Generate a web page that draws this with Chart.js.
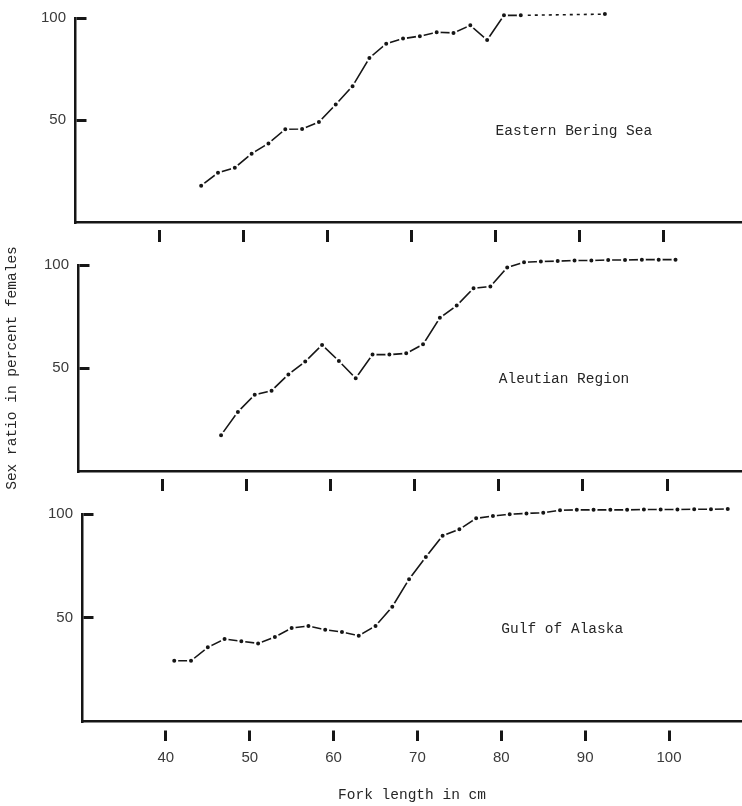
<!DOCTYPE html>
<html>
<head>
<meta charset="utf-8">
<script src="https://cdn.jsdelivr.net/npm/chart.js@4/dist/chart.umd.min.js"></script>
<style>
  html, body { margin: 0; padding: 0; background: #fff; }
  #wrap { position: relative; width: 742px; height: 806px; overflow: hidden; background: #fff; }
  #wrap canvas { position: absolute; left: 0; display: block; }
</style>
</head>
<body>
<div id="wrap">
  <canvas id="bering" width="742" height="246" style="top:0px"></canvas>
  <canvas id="aleutian" width="742" height="250" style="top:246px"></canvas>
  <canvas id="gulf" width="742" height="310" style="top:496px"></canvas>
</div>
<script>
// Fork length classes (cm) and percent females in each class, by region
const beringLength  = [45, 47, 49, 51, 53, 55, 57, 59, 61, 63, 65, 67, 69, 71, 73, 75, 77, 79, 81, 83, 93];
const beringFemales = [17.8, 24.1, 26.6, 33.5, 38.5, 45.5, 45.6, 49.0, 57.6, 66.6, 80.4, 87.4, 89.9, 91.1, 93.0, 92.7, 96.4, 89.2, 101.3, 101.3, 101.9];

const aleutianLength  = [47, 49, 51, 53, 55, 57, 59, 61, 63, 65, 67, 69, 71, 73, 75, 77, 79, 81, 83, 85, 87, 89, 91, 93, 95, 97, 99, 101];
const aleutianFemales = [17.4, 28.7, 37.0, 39.0, 46.9, 53.1, 61.2, 53.4, 45.0, 56.5, 56.5, 57.1, 61.5, 74.4, 80.3, 88.7, 89.6, 98.8, 101.3, 101.7, 101.9, 102.2, 102.2, 102.4, 102.4, 102.6, 102.6, 102.6];

const gulfLength  = [41, 43, 45, 47, 49, 51, 53, 55, 57, 59, 61, 63, 65, 67, 69, 71, 73, 75, 77, 79, 81, 83, 85, 87, 89, 91, 93, 95, 97, 99, 101, 103, 105, 107];
const gulfFemales = [29.1, 29.1, 35.6, 39.6, 38.5, 37.5, 40.6, 44.9, 45.9, 44.1, 43.0, 41.2, 45.9, 55.2, 68.5, 79.2, 89.5, 92.6, 97.9, 99.0, 99.9, 100.3, 100.6, 101.8, 102.0, 102.0, 102.0, 102.0, 102.2, 102.2, 102.2, 102.3, 102.3, 102.4];

// Axis tick values
const lengthTicks  = [40, 50, 60, 70, 80, 90, 100];
const percentTicks = [50, 100];

const INK = '#161616';
const MONO = "'Liberation Mono', 'DejaVu Sans Mono', monospace";
const SANS = "'Liberation Sans', Arial, sans-serif";

// Region name written inside each panel, placed in data units
const regionLabel = {
  id: 'regionLabel',
  afterDatasetsDraw(chart, args, opts) {
    if (!opts.text) return;
    const { ctx, scales: { x, y } } = chart;
    ctx.save();
    ctx.font = '14.5px ' + MONO;
    ctx.fillStyle = '#262626';
    ctx.textAlign = 'left';
    ctx.textBaseline = 'middle';
    ctx.fillText(opts.text, x.getPixelForValue(opts.at[0]), y.getPixelForValue(opts.at[1]));
    ctx.restore();
  }
};

function panel(id, lengths, females, cfg) {
  const last = lengths.length - 1;
  return new Chart(document.getElementById(id), {
    type: 'line',
    data: {
      datasets: [{
        data: lengths.map((v, i) => ({ x: v, y: females[i] })),
        borderColor: INK,
        borderWidth: 1.6,
        tension: 0,
        fill: false,
        clip: 10,
        pointRadius: 3,
        pointBorderWidth: 2,
        pointBackgroundColor: INK,
        pointBorderColor: '#fff',
        segment: {
          borderDash: ctx => (cfg.dottedTail && ctx.p1DataIndex === last) ? [3, 4] : undefined
        }
      }]
    },
    options: {
      responsive: false,
      animation: false,
      devicePixelRatio: 1,
      layout: { autoPadding: false, padding: { top: cfg.top, left: 0, right: 0, bottom: 0 } },
      plugins: {
        legend: { display: false },
        tooltip: { enabled: false },
        regionLabel: { text: cfg.name, at: [80, 44.5] }
      },
      scales: {
        x: {
          type: 'linear',
          min: 30,
          max: cfg.xMax,
          afterFit: s => { s.height = cfg.xHeight; },
          afterBuildTicks: s => { s.ticks = lengthTicks.map(v => ({ value: v })); },
          border: { display: true, color: INK, width: 2.5 },
          grid: {
            drawOnChartArea: false,
            drawTicks: true,
            tickLength: 20,
            tickWidth: 3,
            tickColor: INK,
            tickBorderDash: [0, cfg.tickGap, 12, 0]
          },
          ticks: {
            display: !!cfg.xLabels,
            padding: 8,
            maxRotation: 0,
            color: '#3a3a3a',
            font: { family: SANS, size: 15 }
          },
          title: {
            display: !!cfg.xLabels,
            text: 'Fork length in cm',
            color: '#262626',
            font: { family: MONO, size: 14.5 },
            padding: { top: 0, bottom: 2 }
          }
        },
        y: {
          min: 0,
          max: 100,
          afterFit: s => { s.width = cfg.yWidth; },
          afterBuildTicks: s => { s.ticks = percentTicks.map(v => ({ value: v })); },
          border: { display: true, color: INK, width: 2.5, dash: [10, 4000] },
          grid: { drawTicks: false, color: INK, lineWidth: 3 },
          ticks: {
            padding: 9,
            color: '#3a3a3a',
            font: { family: SANS, size: 15 }
          },
          title: {
            display: !!cfg.yTitle,
            text: 'Sex ratio in percent females',
            color: '#262626',
            font: { family: MONO, size: 14.5 },
            padding: { top: 3, bottom: 0 }
          }
        }
      }
    },
    plugins: [regionLabel]
  });
}

panel('bering', beringLength, beringFemales,
  { name: 'Eastern Bering Sea', top: 16, xHeight: 24, yWidth: 75, xMax: 109.3, tickGap: 6.5, dottedTail: true });
panel('aleutian', aleutianLength, aleutianFemales,
  { name: 'Aleutian Region', top: 19, xHeight: 25, yWidth: 78, xMax: 108.9, tickGap: 6.5, yTitle: true });
panel('gulf', gulfLength, gulfFemales,
  { name: 'Gulf of Alaska', top: 18, xHeight: 85, yWidth: 82, xMax: 108.7, tickGap: 8, xLabels: true });
</script>
</body>
</html>
